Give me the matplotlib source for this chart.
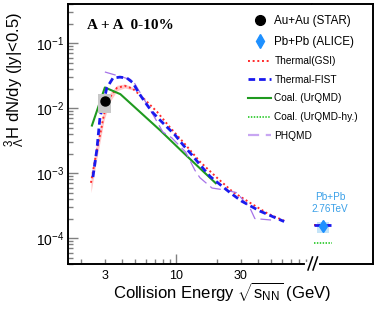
import matplotlib
matplotlib.use("Agg")
import matplotlib.pyplot as plt
from matplotlib.lines import Line2D
from matplotlib.patches import Rectangle
from matplotlib.ticker import FixedLocator, FixedFormatter, NullFormatter, LogLocator

plt.rcParams['font.family'] = ['Liberation Sans', 'DejaVu Sans']
plt.rcParams['mathtext.fontset'] = 'custom'
plt.rcParams['mathtext.rm'] = 'Liberation Sans'
plt.rcParams['mathtext.it'] = 'Liberation Sans:italic'
plt.rcParams['mathtext.bf'] = 'Liberation Sans:bold'

# ---- data ----
star_E = [3.0]
star_y = [0.0129]
star_sys_lo = [0.0085]
star_sys_hi = [0.0166]

alice_E = [2760.0]
alice_y = [1.52e-4]
alice_err = [0.12e-4]
alice_sys_lo = [1.2e-4]
alice_sys_hi = [1.78e-4]

gsi_E = [2.37, 2.62, 2.81, 2.95, 3.27, 3.68, 4.2, 4.8, 5.7, 7.25, 9.0, 11.3, 15, 20, 26, 35, 47, 62.4]
gsi_y = [7.1e-4, 2.3e-3, 4.6e-3, 7.9e-3, 1.48e-2, 2.05e-2, 2.2e-2, 2.0e-2, 1.45e-2, 8.8e-3,
         5.1e-3, 3.0e-3, 1.5e-3, 8.5e-4, 5.2e-4, 3.5e-4, 2.4e-4, 1.85e-4]
gsi_band_E = [2.37, 2.62, 2.81, 2.95, 3.27, 3.68, 4.2, 4.8]
gsi_band_lo = [5.0e-4, 1.7e-3, 3.6e-3, 6.4e-3, 1.25e-2, 1.85e-2, 2.05e-2, 1.9e-2]
gsi_band_hi = [9.5e-4, 3.0e-3, 5.8e-3, 9.6e-3, 1.7e-2, 2.25e-2, 2.35e-2, 2.1e-2]

fist_E = [2.45, 2.62, 2.76, 3.1, 3.44, 3.87, 4.36, 4.83, 5.26, 5.9, 6.66, 7.6, 8.6, 9.8,
          11.3, 13.1, 15, 17.8, 25, 30.4, 41.5, 62.4]
fist_y = [8.7e-4, 2.3e-3, 7.1e-3, 2.05e-2, 2.9e-2, 3.0e-2, 2.9e-2, 2.45e-2, 1.78e-2, 1.25e-2,
          8.8e-3, 6.6e-3, 5.1e-3, 3.9e-3, 2.7e-3, 1.9e-3, 1.35e-3, 8.9e-4, 5.0e-4, 3.7e-4,
          2.6e-4, 1.8e-4]

urqmd_E = [2.41, 3.0, 3.9, 7.7, 11.5, 19.6]
urqmd_y = [5.4e-3, 2.08e-2, 1.64e-2, 4.5e-3, 2.0e-3, 7.0e-4]

phqmd_E = [3.0, 4.8, 6.3, 8.0, 9.3, 11.8, 13.8, 15, 18.4, 22.9, 28, 35, 38, 50]
phqmd_y = [3.6e-2, 2.7e-2, 1.04e-2, 4.3e-3, 3.5e-3, 2.1e-3, 1.1e-3, 8.5e-4, 5.9e-4, 5.5e-4,
           5.0e-4, 2.9e-4, 2.0e-4, 1.9e-4]

lhc_gsi = [1.6e-4]
lhc_fist = [1.6e-4]
lhc_urqmd_hy = [8.3e-5]

xtick_vals = [3, 10, 30]
xtick_labels = ['3', '10', '30']

# ---- styles ----
c_gsi = '#ff2a2a'
c_fist = '#1a1aee'
c_urqmd = '#1f9a1f'
c_hy = '#33cc33'
c_phqmd = '#a673e8'
c_alice = '#1e90ff'
st_gsi = dict(color=c_gsi, ls=(0, (1, 1.4)), lw=1.4)
st_fist = dict(color=c_fist, ls=(0, (2.4, 1.4)), lw=2.0)
st_urqmd = dict(color=c_urqmd, ls='-', lw=1.5)
st_hy = dict(color=c_hy, ls=(0, (0.8, 0.8)), lw=1.3)
st_phqmd = dict(color=c_phqmd, ls=(0, (9, 4)), lw=0.9)

W, H = 382, 317
fig = plt.figure(figsize=(W / 100, H / 100), dpi=100)
ax1 = fig.add_axes([68 / W, 53 / H, 244 / W, 260 / H])
ax2 = fig.add_axes([312 / W, 53 / H, 61 / W, 260 / H])

ylim = (4.0e-5, 0.4)
for ax in (ax1, ax2):
    ax.set_xscale('log')
    ax.set_yscale('log')
    ax.set_ylim(*ylim)
    for s in ax.spines.values():
        s.set_linewidth(1.4)
ax1.set_xlim(1.607, 100)
ax2.set_xlim(2290, 6440)
ax1.spines['right'].set_visible(False)
ax2.spines['left'].set_visible(False)

# main panel
ax1.fill_between(gsi_band_E, gsi_band_lo, gsi_band_hi, color='#ffc8c8', lw=0, zorder=1)
ax1.plot(gsi_E, gsi_y, zorder=3, **st_gsi)
ax1.plot(fist_E, fist_y, zorder=4, **st_fist)
ax1.plot(urqmd_E, urqmd_y, zorder=3, **st_urqmd)
ax1.plot(phqmd_E, phqmd_y, zorder=3, **st_phqmd)
for e, lo, hi in zip(star_E, star_sys_lo, star_sys_hi):
    ax1.add_patch(Rectangle((e / 1.117, lo), e * 1.117 - e / 1.117, hi - lo,
                            color='#c8c8c8', lw=0, zorder=5))
ax1.plot(star_E, star_y, 'o', color='black', ms=6.5, zorder=6)

# LHC panel
for e, lo, hi in zip(alice_E, alice_sys_lo, alice_sys_hi):
    ax2.add_patch(Rectangle((e / 1.107, lo), e * 1.107 - e / 1.107, hi - lo,
                            color='#c4e4f8', lw=0, zorder=1))
for e, yv in zip(alice_E, lhc_gsi):
    ax2.plot([e / 1.17, e * 1.14], [yv, yv], zorder=2, **st_gsi)
for e, yv in zip(alice_E, lhc_fist):
    ax2.plot([e / 1.17, e * 1.14], [yv, yv], zorder=3, **st_fist)
for e, yv in zip(alice_E, lhc_urqmd_hy):
    ax2.plot([e / 1.17, e * 1.17], [yv, yv], zorder=3, **st_hy)
ax2.errorbar(alice_E, alice_y, yerr=alice_err, fmt='d', color=c_alice, ms=6,
             elinewidth=1, capsize=0, zorder=5)
ax2.text(0.295, 0.235, 'Pb+Pb\n2.76TeV', transform=ax2.transAxes, ha='center',
         va='center', fontsize=7.2, color='#3aa0e8', linespacing=1.25)
ax2.xaxis.set_visible(False)
ax2.yaxis.set_visible(False)

# ticks
ax1.xaxis.set_major_locator(FixedLocator(xtick_vals))
ax1.xaxis.set_major_formatter(FixedFormatter(xtick_labels))
ax1.xaxis.set_minor_locator(FixedLocator([2, 4, 5, 6, 7, 8, 9, 20, 40, 50, 60, 70, 80, 90]))
ax1.xaxis.set_minor_formatter(NullFormatter())
ax1.yaxis.set_major_locator(LogLocator(base=10, numticks=10))
ax1.yaxis.set_minor_locator(LogLocator(base=10, subs=range(2, 10), numticks=10))
ax1.yaxis.set_minor_formatter(NullFormatter())
ax1.tick_params(axis='both', which='both', direction='in', color='#808080', width=1,
                top=False, right=False)
ax1.tick_params(axis='y', which='major', length=7, labelsize=10, pad=3)
ax1.tick_params(axis='y', which='minor', length=3.5)
ax1.tick_params(axis='x', which='major', length=3.5, labelsize=9, pad=4)
ax1.tick_params(axis='x', which='minor', length=3.5)
# the 10 GeV tick is a full decade tick
ax1.xaxis.get_major_ticks()[1].tick1line.set_markersize(7)

# axis break
fy = 1 - 264 / H
fig.add_artist(Line2D([307 / W, 317 / W], [fy, fy], color='white', lw=3,
                      transform=fig.transFigure))
for x0 in (308, 313):
    fig.add_artist(Line2D([x0 / W, (x0 + 4.5) / W], [1 - 270 / H, 1 - 257 / H],
                          color='black', lw=1.1, transform=fig.transFigure))

# labels
ax1.set_ylabel(r'${}^{3}_{\Lambda}$H dN/dy (|y|<0.5)', fontsize=12)
ax1.yaxis.set_label_coords(-0.17, 0.71)
fig.text(222 / W, 1 - 292 / H, r'Collision Energy $\sqrt{\mathrm{s}_{\mathrm{NN}}}$ (GeV)',
         ha='center', va='center', fontsize=12)
ax1.text(0.078, 0.919, 'A + A  0-10%', transform=ax1.transAxes, ha='left', va='center',
         fontsize=11, fontweight='bold', family='Liberation Serif')

# legend
handles = [
    Line2D([], [], marker='o', color='black', ls='none', ms=7),
    Line2D([], [], marker='d', color=c_alice, ls='none', ms=7),
    Line2D([], [], **st_gsi),
    Line2D([], [], **st_fist),
    Line2D([], [], **st_urqmd),
    Line2D([], [], **st_hy),
    Line2D([], [], color='#c8a6f2', ls=(0, (5, 3)), lw=1.6),
]
labels = ['Au+Au (STAR)', 'Pb+Pb (ALICE)', 'Thermal(GSI)', 'Thermal-FIST',
          'Coal. (UrQMD)', 'Coal. (UrQMD-hy.)', 'PHQMD']
leg = fig.legend(handles, labels, loc='upper left', bbox_to_anchor=(248 / W, 1 - 15 / H),
                 frameon=False, fontsize=7.3,
                 handlelength=2.3, handletextpad=0.3, labelspacing=0.85,
                 borderpad=0, borderaxespad=0)
for t in leg.get_texts()[:2]:
    t.set_fontsize(8.4)

fig.savefig('out.png', dpi=100)
